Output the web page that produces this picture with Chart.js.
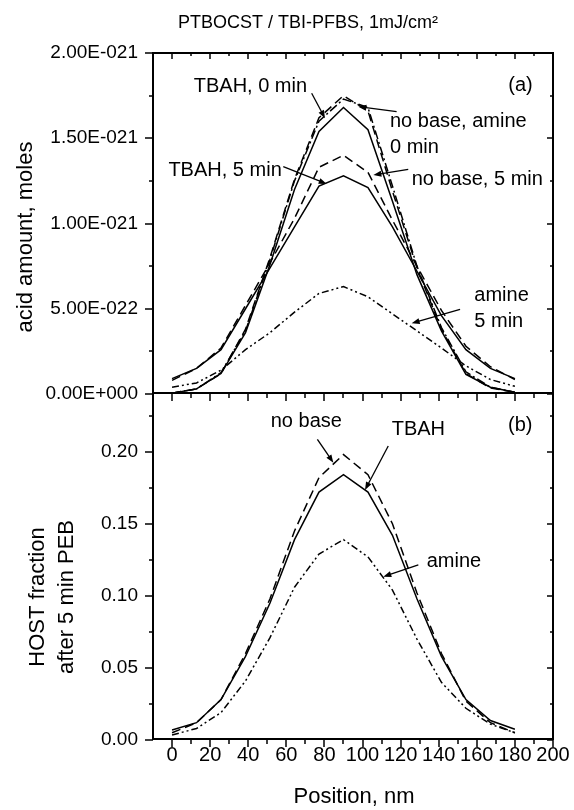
<!DOCTYPE html>
<html>
<head>
<meta charset="utf-8">
<script src="https://cdn.jsdelivr.net/npm/chart.js@4.4.1/dist/chart.umd.min.js"></script>
<style>
    body { margin: 0; background: #fff; }
    #wrap { position: relative; width: 574px; height: 810px; }
    #topChart { position: absolute; left: 0; top: 0; }
    #bottomChart { position: absolute; left: 0; top: 394px; }
</style>
</head>
<body>
<div id="wrap">
    <canvas id="topChart" width="574" height="410"></canvas>
    <canvas id="bottomChart" width="574" height="416"></canvas>
</div>
<script>
var FONT = "'Liberation Sans', Arial, Helvetica, sans-serif";

// position along the line, nm
var positions = [0, 12.86, 25.71, 38.57, 51.43, 64.29, 77.14, 90, 102.86, 115.71, 128.57, 141.43, 154.29, 167.14, 180];

// (a) acid amount, in units of 1E-21 moles
var tbah0 = [0.005, 0.03, 0.12, 0.36, 0.76, 1.20, 1.54, 1.68, 1.55, 1.13, 0.70, 0.37, 0.115, 0.04, 0.01];
var noBase0 = [0.005, 0.03, 0.12, 0.38, 0.80, 1.26, 1.62, 1.75, 1.66, 1.19, 0.74, 0.38, 0.12, 0.035, 0.01];
var amine0 = [0.005, 0.03, 0.125, 0.37, 0.79, 1.25, 1.60, 1.73, 1.68, 1.22, 0.75, 0.39, 0.13, 0.04, 0.01];
var tbah5 = [0.09, 0.15, 0.26, 0.50, 0.74, 0.98, 1.22, 1.28, 1.21, 0.98, 0.72, 0.46, 0.26, 0.15, 0.09];
var noBase5 = [0.08, 0.15, 0.27, 0.52, 0.77, 1.03, 1.33, 1.40, 1.30, 1.02, 0.75, 0.49, 0.28, 0.16, 0.085];
var amine5 = [0.04, 0.065, 0.14, 0.26, 0.36, 0.48, 0.59, 0.63, 0.57, 0.47, 0.37, 0.27, 0.165, 0.085, 0.045];

// (b) HOST fraction after 5 min PEB
var noBaseHost = [0.005, 0.012, 0.028, 0.060, 0.098, 0.145, 0.182, 0.198, 0.184, 0.150, 0.102, 0.060, 0.027, 0.012, 0.005];
var tbahHost = [0.007, 0.012, 0.028, 0.058, 0.095, 0.139, 0.172, 0.184, 0.172, 0.142, 0.098, 0.058, 0.028, 0.0135, 0.0075];
var amineHost = [0.0035, 0.008, 0.019, 0.041, 0.071, 0.106, 0.129, 0.139, 0.127, 0.104, 0.07, 0.04, 0.022, 0.011, 0.005];

// ticks
var xMajor = [0, 20, 40, 60, 80, 100, 120, 140, 160, 180, 200];
var xMinor = [10, 30, 50, 70, 90, 110, 130, 150, 170, 190];
var topMajor = [0, 0.5, 1, 1.5, 2];
var topMinor = [0.25, 0.75, 1.25, 1.75];
var topTickLabels = ["0.00E+000", "5.00E-022", "1.00E-021", "1.50E-021", "2.00E-021"];
var bottomMajor = [0, 0.05, 0.1, 0.15, 0.2];
var bottomMinor = [0.025, 0.075, 0.125, 0.175, 0.225];
var bottomTickLabels = ["0.00", "0.05", "0.10", "0.15", "0.20"];

// labels with arrows, in data units
var topNotes = [
    { lines: ["TBAH, 0 min"], x: 70.9, y: 1.802, align: "right", from: [73.3, 1.764], to: [80.3, 1.617] },
    { lines: ["TBAH, 5 min"], x: 57.6, y: 1.310, align: "right", from: [58.4, 1.333], to: [81.2, 1.232] },
    { lines: ["no base, amine", "0 min"], x: 114.4, y: 1.597, align: "left", from: [117.9, 1.656], to: [97.8, 1.685] },
    { lines: ["no base, 5 min"], x: 125.8, y: 1.259, align: "left", from: [124.0, 1.318], to: [105.7, 1.284] },
    { lines: ["amine", "5 min"], x: 158.7, y: 0.575, align: "left", from: [151.2, 0.497], to: [125.8, 0.415] },
    { lines: ["(a)"], x: 176.5, y: 1.812, align: "left" },
];
var bottomNotes = [
    { lines: ["no base"], x: 51.8, y: 0.2208, align: "left", from: [76.3, 0.2086], to: [84.7, 0.1923] },
    { lines: ["TBAH"], x: 115.3, y: 0.2155, align: "left", from: [113.5, 0.2039], to: [101.3, 0.1734] },
    { lines: ["amine"], x: 133.7, y: 0.1237, align: "left", from: [129.3, 0.1214], to: [110.9, 0.1133] },
    { lines: ["(b)"], x: 176.4, y: 0.2185, align: "left" },
];

function toPoints(values) {
    return positions.map(function (x, i) {
        return { x: x, y: values[i] };
    });
}

function line(label, values, dash) {
    return {
        label: label,
        data: toPoints(values),
        borderColor: "#000",
        borderWidth: 1.5,
        borderDash: dash,
        pointRadius: 0,
        fill: false,
        tension: 0,
    };
}

function tickMarks(ctx, scale, values, fixed, dir, len, vertical) {
    for (var v of values) {
        var p = Math.round(scale.getPixelForValue(v));
        ctx.beginPath();
        if (vertical) {
            ctx.moveTo(fixed, p);
            ctx.lineTo(fixed + dir * len, p);
        } else {
            ctx.moveTo(p, fixed);
            ctx.lineTo(p, fixed + dir * len);
        }
        ctx.stroke();
    }
}

function arrow(ctx, x1, y1, x2, y2) {
    var ang = Math.atan2(y2 - y1, x2 - x1);
    var c = Math.cos(ang), s = Math.sin(ang);
    ctx.beginPath();
    ctx.moveTo(x1, y1);
    ctx.lineTo(x2 - 4 * c, y2 - 4 * s);
    ctx.stroke();
    ctx.beginPath();
    ctx.moveTo(x2, y2);
    ctx.lineTo(x2 - 8 * c + 3 * s, y2 - 8 * s - 3 * c);
    ctx.lineTo(x2 - 8 * c - 3 * s, y2 - 8 * s + 3 * c);
    ctx.closePath();
    ctx.fill();
}

// frame, tick marks, free texts and arrow labels
var framePlugin = {
    id: "frame",
    afterDraw: function (chart, args, opts) {
        var ctx = chart.ctx;
        var a = chart.chartArea;
        var xs = chart.scales.x, ys = chart.scales.y;
        ctx.save();
        ctx.strokeStyle = "#000";
        ctx.fillStyle = "#000";
        ctx.lineWidth = 2;
        ctx.beginPath();
        ctx.moveTo(a.left, a.top);
        ctx.lineTo(a.left, a.bottom);
        ctx.moveTo(a.right, a.top);
        ctx.lineTo(a.right, a.bottom);
        if (opts.topLine) {
            ctx.moveTo(a.left - 1, a.top);
            ctx.lineTo(a.right + 1, a.top);
        }
        ctx.moveTo(a.left - 1, a.bottom - 1);
        ctx.lineTo(a.right + 1, a.bottom - 1);
        ctx.stroke();

        ctx.lineWidth = 1.5;
        tickMarks(ctx, ys, opts.yMajor, a.left, -1, 8, true);
        tickMarks(ctx, ys, opts.yMinor, a.left, -1, 4, true);
        tickMarks(ctx, ys, opts.yMajor, a.right, -1, 6, true);
        tickMarks(ctx, ys, opts.yMinor, a.right, -1, 3, true);
        if (opts.topLine) {
            tickMarks(ctx, xs, xMajor, a.top, 1, 6, false);
            tickMarks(ctx, xs, xMinor, a.top, 1, 3, false);
        }
        tickMarks(ctx, xs, xMajor, a.bottom, 1, 7, false);
        tickMarks(ctx, xs, xMinor, a.bottom, 1, 4, false);

        for (var t of opts.texts) {
            ctx.save();
            ctx.font = t.size + "px " + FONT;
            ctx.textAlign = "center";
            ctx.textBaseline = "middle";
            ctx.translate(t.x, t.y);
            if (t.rotate) {
                ctx.rotate(-Math.PI / 2);
            }
            ctx.fillText(t.text, 0, 0);
            ctx.restore();
        }

        ctx.lineWidth = 1.3;
        ctx.font = "20px " + FONT;
        ctx.textBaseline = "middle";
        for (var n of opts.notes) {
            ctx.textAlign = n.align;
            var px = xs.getPixelForValue(n.x);
            var py = ys.getPixelForValue(n.y);
            n.lines.forEach(function (txt, i) {
                ctx.fillText(txt, px, py + i * 26);
            });
            if (n.from) {
                arrow(ctx, xs.getPixelForValue(n.from[0]), ys.getPixelForValue(n.from[1]),
                    xs.getPixelForValue(n.to[0]), ys.getPixelForValue(n.to[1]));
            }
        }
        ctx.restore();
    },
};

function noPadding(scale) {
    scale.paddingTop = 0;
    scale.paddingBottom = 0;
    scale.paddingLeft = 0;
    scale.paddingRight = 0;
}

function yScale(max, major, labels) {
    return {
        type: "linear",
        min: 0,
        max: max,
        grid: { display: false },
        border: { display: false },
        afterBuildTicks: function (scale) {
            scale.ticks = major.map(function (v) {
                return { value: v };
            });
        },
        afterFit: function (scale) {
            scale.width = 153;
            noPadding(scale);
        },
        ticks: {
            color: "#000",
            font: { family: FONT, size: 19 },
            padding: 7,
            callback: function (value) {
                return labels[major.indexOf(value)];
            },
        },
    };
}

var topChart = new Chart("topChart", {
    type: "line",
    data: {
        datasets: [
            line("TBAH, 0 min", tbah0, []),
            line("no base, 0 min", noBase0, [9, 5]),
            line("amine, 0 min", amine0, [9, 3, 2, 3]),
            line("TBAH, 5 min", tbah5, []),
            line("no base, 5 min", noBase5, [9, 5]),
            line("amine, 5 min", amine5, [7, 3, 2, 3, 2, 3]),
        ],
    },
    options: {
        responsive: false,
        animation: false,
        events: [],
        layout: { padding: { top: 53, right: 21, bottom: 16, left: 0 } },
        plugins: {
            legend: { display: false },
            tooltip: { enabled: false },
            frame: {
                topLine: true,
                yMajor: topMajor,
                yMinor: topMinor,
                texts: [
                    { text: "PTBOCST / TBI-PFBS, 1mJ/cm\u00b2", x: 308, y: 23, size: 18 },
                    { text: "acid amount, moles", x: 26, y: 237, size: 22, rotate: true },
                ],
                notes: topNotes,
            },
        },
        scales: {
            x: { type: "linear", min: -10, max: 200, display: false },
            y: yScale(2, topMajor, topTickLabels),
        },
    },
    plugins: [framePlugin],
});

var bottomChart = new Chart("bottomChart", {
    type: "line",
    data: {
        datasets: [
            line("no base", noBaseHost, [9, 5]),
            line("TBAH", tbahHost, []),
            line("amine", amineHost, [7, 3, 2, 3, 2, 3]),
        ],
    },
    options: {
        responsive: false,
        animation: false,
        events: [],
        layout: { padding: { top: 0, right: 21, bottom: 0, left: 0 } },
        plugins: {
            legend: { display: false },
            tooltip: { enabled: false },
            frame: {
                topLine: false,
                yMajor: bottomMajor,
                yMinor: bottomMinor,
                texts: [
                    { text: "HOST fraction", x: 38, y: 203, size: 22, rotate: true },
                    { text: "after 5 min PEB", x: 67, y: 203, size: 22, rotate: true },
                    { text: "Position, nm", x: 354, y: 403, size: 22 },
                ],
                notes: bottomNotes,
            },
        },
        scales: {
            x: {
                type: "linear",
                min: -10,
                max: 200,
                grid: { display: false },
                border: { display: false },
                afterBuildTicks: function (scale) {
                    scale.ticks = xMajor.map(function (v) {
                        return { value: v };
                    });
                },
                afterFit: function (scale) {
                    scale.height = 70;
                    noPadding(scale);
                },
                ticks: {
                    color: "#000",
                    font: { family: FONT, size: 20 },
                    padding: -5,
                    autoSkip: false,
                    maxRotation: 0,
                    minRotation: 0,
                },
            },
            y: yScale(0.24, bottomMajor, bottomTickLabels),
        },
    },
    plugins: [framePlugin],
});
</script>
</body>
</html>
